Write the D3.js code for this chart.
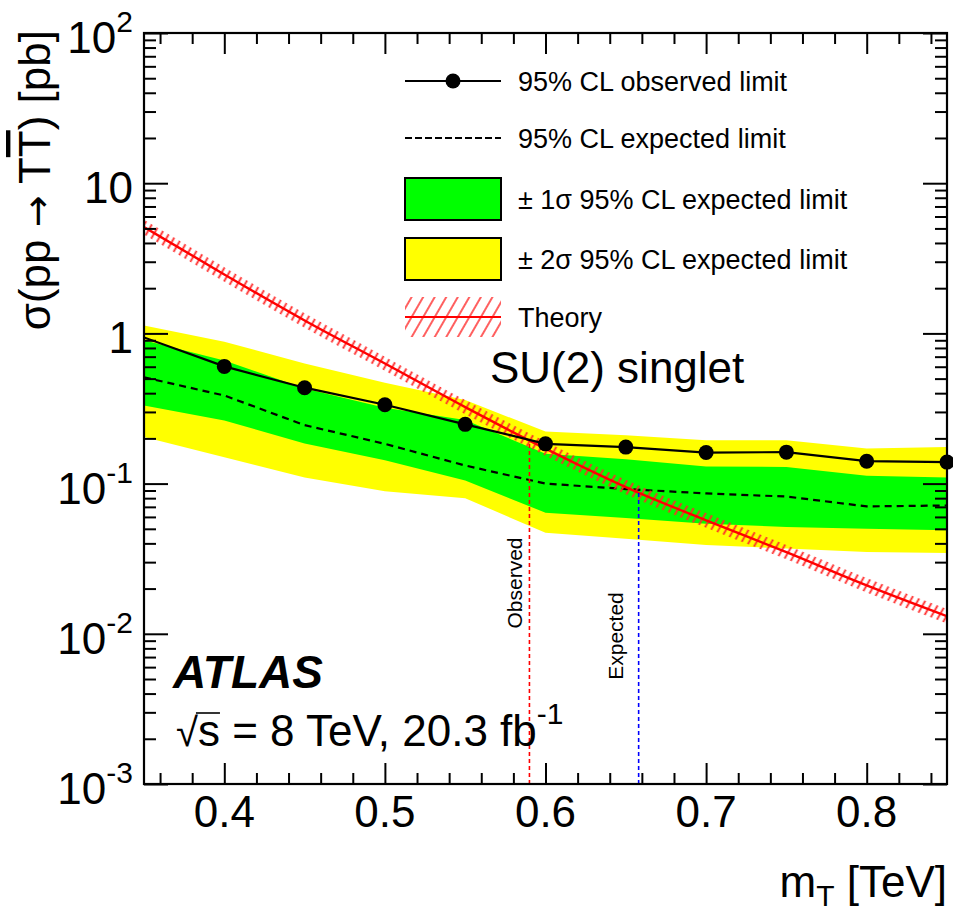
<!DOCTYPE html>
<html><head><meta charset="utf-8">
<script src="https://cdn.jsdelivr.net/npm/d3@7"></script>
<style>
body{margin:0;background:#fff}
svg{display:block}
text{font-family:"Liberation Sans",Arial,Helvetica,sans-serif;fill:#000}
</style>
</head><body>
<svg id="c" width="953" height="917"></svg>
<script>
// ---------------- data ----------------
const masses       = [0.35, 0.40, 0.45, 0.50, 0.55, 0.60, 0.65, 0.70, 0.75, 0.80, 0.85];
const observed     = [0.94, 0.603, 0.435, 0.335, 0.248, 0.184, 0.175, 0.161, 0.162, 0.141, 0.139];
const expected     = [0.51, 0.386, 0.245, 0.184, 0.132, 0.100, 0.092, 0.086, 0.082, 0.0705, 0.0715];
const oneSigmaUp   = [0.90, 0.66, 0.43, 0.32, 0.265, 0.158, 0.145, 0.130, 0.129, 0.113, 0.110];
const oneSigmaDown = [0.331, 0.263, 0.185, 0.143, 0.105, 0.064, 0.059, 0.054, 0.0515, 0.050, 0.049];
const twoSigmaUp   = [1.13, 0.88, 0.63, 0.47, 0.36, 0.222, 0.21, 0.194, 0.194, 0.171, 0.175];
const twoSigmaDown = [0.204, 0.150, 0.110, 0.089, 0.080, 0.047, 0.043, 0.039, 0.037, 0.035, 0.0345];
const theory       = [5.1, 2.47, 1.22, 0.63, 0.323, 0.171, 0.0948, 0.0569, 0.035, 0.021, 0.0131];
const theoryUp     = [5.7, 2.76, 1.36, 0.70, 0.36, 0.191, 0.106, 0.0636, 0.039, 0.0235, 0.0146];
const theoryDown   = [4.56, 2.21, 1.09, 0.564, 0.289, 0.153, 0.0848, 0.0509, 0.0313, 0.0188, 0.0117];
const obsMassLimit = 0.590;
const expMassLimit = 0.658;

const xMajorTicks = [0.4, 0.5, 0.6, 0.7, 0.8];
const xTickLabels = ["0.4", "0.5", "0.6", "0.7", "0.8"];
const yMajorTicks = [1e-3, 1e-2, 1e-1, 1, 10, 100];
const yTickBase   = ["10", "10", "10", "1", "10", "10"];
const yTickExp    = ["-3", "-2", "-1", "", "", "2"];
const legendLabels = ["95% CL observed limit", "95% CL expected limit",
                      "\u00b1 1\u03c3 95% CL expected limit", "\u00b1 2\u03c3 95% CL expected limit", "Theory"];

// ---------------- setup ----------------
const svg = d3.select("#c");
const M = {left:144, top:33, right:947, bottom:784};
const x = d3.scaleLinear().domain([0.35, 0.85]).range([M.left, M.right]);
const y = d3.scaleLog().domain([1e-3, 1e2]).range([M.bottom, M.top]);
const FONT_MAIN = 44;

const defs = svg.append("defs");
defs.append("clipPath").attr("id","plotclip").append("rect")
  .attr("x", M.left).attr("y", M.top).attr("width", M.right-M.left).attr("height", M.bottom-M.top);
function hatch(id, w, sw){
  const p = defs.append("pattern").attr("id", id).attr("patternUnits","userSpaceOnUse")
    .attr("width", w).attr("height", w).attr("patternTransform","rotate(30)");
  p.append("line").attr("x1", w/2).attr("x2", w/2).attr("y1", 0).attr("y2", w)
    .attr("stroke","#ff2a2a").attr("stroke-width",sw);
}
hatch("hatchPlot", 6.5, 1.8);
hatch("hatchLeg", 10, 1.5);

const data = masses.map((m,i)=>({m, obs:observed[i], exp:expected[i], s1u:oneSigmaUp[i], s1d:oneSigmaDown[i],
  s2u:twoSigmaUp[i], s2d:twoSigmaDown[i], th:theory[i], thu:theoryUp[i], thd:theoryDown[i]}));

const g = svg.append("g").attr("clip-path","url(#plotclip)");

// bands
g.append("path").datum(data).attr("fill","#ffff00")
  .attr("d", d3.area().x(d=>x(d.m)).y0(d=>y(d.s2d)).y1(d=>y(d.s2u)));
g.append("path").datum(data).attr("fill","#00ff00")
  .attr("d", d3.area().x(d=>x(d.m)).y0(d=>y(d.s1d)).y1(d=>y(d.s1u)));
// expected
g.append("path").datum(data).attr("fill","none").attr("stroke","#000").attr("stroke-width",2.2)
  .attr("stroke-dasharray","7,5")
  .attr("d", d3.line().x(d=>x(d.m)).y(d=>y(d.exp)));
// theory
g.append("path").datum(data).attr("fill","url(#hatchPlot)")
  .attr("d", d3.area().curve(d3.curveMonotoneX).x(d=>x(d.m)).y0(d=>y(d.thd)).y1(d=>y(d.thu)));
g.append("path").datum(data).attr("fill","none").attr("stroke","#ff0000").attr("stroke-width",2.4)
  .attr("d", d3.line().curve(d3.curveMonotoneX).x(d=>x(d.m)).y(d=>y(d.th)));

// theory value at a mass (log interpolation) for the vertical limit lines
function theoryAt(mv){
  const i = Math.max(0, Math.min(masses.length-2, d3.bisectRight(masses, mv)-1));
  const t = (mv - masses[i])/(masses[i+1]-masses[i]);
  return Math.pow(10, Math.log10(theory[i])*(1-t) + Math.log10(theory[i+1])*t);
}
g.append("line").attr("x1", x(obsMassLimit)).attr("x2", x(obsMassLimit))
  .attr("y1", y(1e-3)).attr("y2", y(theoryAt(obsMassLimit)))
  .attr("stroke","#ff0000").attr("stroke-width",1.6).attr("stroke-dasharray","4,3");
g.append("line").attr("x1", x(expMassLimit)).attr("x2", x(expMassLimit))
  .attr("y1", y(1e-3)).attr("y2", y(theoryAt(expMassLimit)))
  .attr("stroke","#0000ff").attr("stroke-width",1.6).attr("stroke-dasharray","4,3");

// observed
g.append("path").datum(data).attr("fill","none").attr("stroke","#000").attr("stroke-width",2.2)
  .attr("d", d3.line().x(d=>x(d.m)).y(d=>y(d.obs)));
svg.append("g").selectAll("circle").data(data.filter(d=>d.m > 0.351)).join("circle")
  .attr("cx", d=>x(d.m)).attr("cy", d=>y(d.obs)).attr("r", 7.5).attr("fill","#000");

// vertical labels
svg.append("text").attr("transform",`translate(${x(obsMassLimit)-7},583) rotate(-90)`)
  .attr("text-anchor","middle").attr("font-size",21).text("Observed");
svg.append("text").attr("transform",`translate(${x(expMassLimit)-16},636) rotate(-90)`)
  .attr("text-anchor","middle").attr("font-size",21).text("Expected");

// ---------------- axes ----------------
const yMinor = [];
[1e-3,1e-2,1e-1,1,10].forEach(d=>{ for(let k=2;k<=9;k++) yMinor.push(k*d); });
const xMinor = d3.range(0.36, 0.8401, 0.02).filter(v=>!xMajorTicks.some(t=>Math.abs(t-v)<1e-6));

function addAxis(axisGen, transform){
  const a = svg.append("g").attr("transform", transform).call(axisGen);
  a.select(".domain").remove();
  a.selectAll("line").attr("stroke","#000").attr("stroke-width",2);
  a.selectAll("text").remove();
}
addAxis(d3.axisLeft(y).tickValues(yMajorTicks).tickSize(-24).tickFormat(""), `translate(${M.left},0)`);
addAxis(d3.axisLeft(y).tickValues(yMinor).tickSize(-12).tickFormat(""), `translate(${M.left},0)`);
addAxis(d3.axisRight(y).tickValues(yMajorTicks).tickSize(-24).tickFormat(""), `translate(${M.right},0)`);
addAxis(d3.axisRight(y).tickValues(yMinor).tickSize(-12).tickFormat(""), `translate(${M.right},0)`);
addAxis(d3.axisBottom(x).tickValues(xMajorTicks).tickSize(-21).tickFormat(""), `translate(0,${M.bottom})`);
addAxis(d3.axisBottom(x).tickValues(xMinor).tickSize(-11).tickFormat(""), `translate(0,${M.bottom})`);
addAxis(d3.axisTop(x).tickValues(xMajorTicks).tickSize(-21).tickFormat(""), `translate(0,${M.top})`);
addAxis(d3.axisTop(x).tickValues(xMinor).tickSize(-11).tickFormat(""), `translate(0,${M.top})`);

svg.append("rect").attr("x",M.left).attr("y",M.top).attr("width",M.right-M.left).attr("height",M.bottom-M.top)
  .attr("fill","none").attr("stroke","#000").attr("stroke-width",2.2);

// x tick labels
svg.append("g").selectAll("text").data(xMajorTicks).join("text")
  .attr("x", d=>x(d)).attr("y", M.bottom+43).attr("text-anchor","middle").attr("font-size",FONT_MAIN)
  .text((d,i)=>xTickLabels[i]);
// y tick labels
yMajorTicks.forEach((v,i)=>{
  const t = svg.append("text").attr("x",133).attr("y", y(v)+20).attr("text-anchor","end").attr("font-size",FONT_MAIN);
  t.append("tspan").text(yTickBase[i]);
  if (yTickExp[i]) t.append("tspan").attr("font-size",30).attr("dy",-21).text(yTickExp[i]);
});

// axis titles
const yt = svg.append("text").attr("transform","translate(50,30) rotate(-90)").attr("text-anchor","end").attr("font-size",FONT_MAIN);
yt.append("tspan").text("\u03c3(pp ");
yt.append("tspan").style("font-family","'DejaVu Sans'").attr("font-size",38).text("\u2192");
yt.append("tspan").text(" T");
yt.append("tspan").style("text-decoration","overline").text("T");
yt.append("tspan").text(") [pb]");

const xt = svg.append("text").attr("x",M.right).attr("y",897).attr("text-anchor","end").attr("font-size",FONT_MAIN);
xt.append("tspan").text("m");
xt.append("tspan").attr("font-size",30).attr("dy",9).text("T");
xt.append("tspan").attr("dy",-9).text(" [TeV]");

// ---------------- legend ----------------
const LX0 = 405, LX1 = 501, LT = 518, LFS = 27;
const rowY = [81, 138, 199, 259, 317];
svg.append("line").attr("x1",LX0).attr("x2",LX1).attr("y1",rowY[0]).attr("y2",rowY[0]).attr("stroke","#000").attr("stroke-width",2);
svg.append("circle").attr("cx",(LX0+LX1)/2).attr("cy",rowY[0]).attr("r",7.5).attr("fill","#000");
svg.append("line").attr("x1",LX0).attr("x2",LX1).attr("y1",rowY[1]).attr("y2",rowY[1]).attr("stroke","#000").attr("stroke-width",2).attr("stroke-dasharray","7,3");
svg.append("rect").attr("x",LX0).attr("y",rowY[2]-21).attr("width",LX1-LX0).attr("height",42).attr("fill","#00ff00").attr("stroke","#000").attr("stroke-width",2);
svg.append("rect").attr("x",LX0).attr("y",rowY[3]-21).attr("width",LX1-LX0).attr("height",42).attr("fill","#ffff00").attr("stroke","#000").attr("stroke-width",2);
svg.append("rect").attr("x",LX0).attr("y",rowY[4]-20).attr("width",LX1-LX0).attr("height",40).attr("fill","url(#hatchLeg)");
svg.append("line").attr("x1",LX0).attr("x2",LX1).attr("y1",rowY[4]).attr("y2",rowY[4]).attr("stroke","#ff0000").attr("stroke-width",2);
legendLabels.forEach((s,i)=>{
  svg.append("text").attr("x",LT).attr("y",rowY[i]+10).attr("font-size",LFS).text(s);
});

// ---------------- annotations ----------------
svg.append("text").attr("x",490).attr("y",383).attr("font-size",FONT_MAIN).text("SU(2) singlet");
svg.append("text").attr("x",173).attr("y",688).attr("font-size",46).attr("font-weight","bold").attr("font-style","italic").text("ATLAS");
const en = svg.append("text").attr("x",176).attr("y",746).attr("font-size",FONT_MAIN);
en.append("tspan").attr("font-size",40).text("\u221a");
en.append("tspan").text("s = 8 TeV, 20.3 fb");
en.append("tspan").attr("font-size",30).attr("dy",-22).text("-1");
// overline of the square root over "s"
const node = en.node();
const ex0 = node.getExtentOfChar(0), ex1 = node.getExtentOfChar(1);
svg.append("line").attr("x1", ex0.x + ex0.width - 2).attr("x2", ex1.x + ex1.width)
  .attr("y1", ex0.y + 3).attr("y2", ex0.y + 3).attr("stroke","#000").attr("stroke-width",1.6);
</script>
</body></html>
